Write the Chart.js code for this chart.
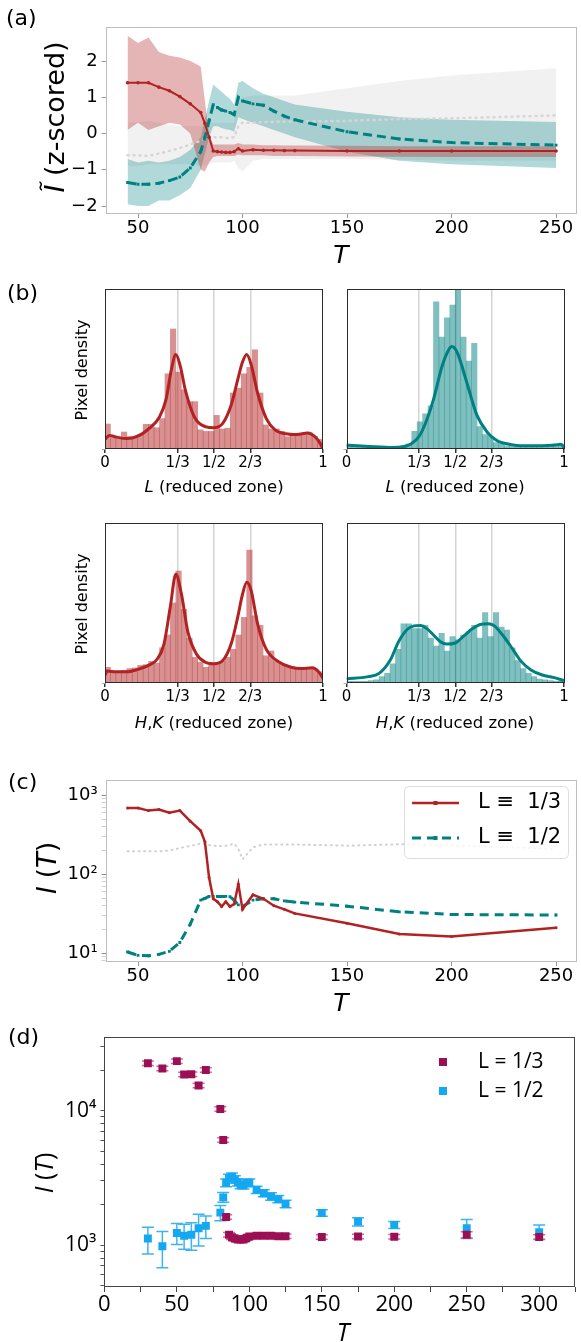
<!DOCTYPE html>
<html>
<head>
<meta charset="utf-8">
<script src="https://cdn.jsdelivr.net/npm/chart.js@4.4.1/dist/chart.umd.min.js"></script>
<style>
  html,body{margin:0;padding:0;background:#fff}
  body{position:relative;width:581px;height:1342px;overflow:hidden;font-family:"DejaVu Sans",sans-serif;color:#000}
  canvas{position:absolute}
  .tx{position:absolute;white-space:nowrap;line-height:1;transform:translate(-50%,-50%)}
  .rot{transform:translate(-50%,-50%) rotate(-90deg)}
  .pl{position:absolute;white-space:nowrap;line-height:1;transform:translateY(-50%);font-size:22px}
  .os{font-family:"Open Sans",sans-serif}
</style>
</head>
<body>
<canvas id="cA"></canvas>
<canvas id="cB1"></canvas>
<canvas id="cB2"></canvas>
<canvas id="cB3"></canvas>
<canvas id="cB4"></canvas>
<canvas id="cC"></canvas>
<canvas id="cD"></canvas>

<div class="pl" style="left:6px;top:18px">(a)</div>
<div class="tx rot" style="left:54px;top:117px;font-size:27px"><i>Ĩ</i> (z-scored)</div>
<div class="tx" style="left:341px;top:254px;font-size:25px"><i>T</i></div>

<div class="pl" style="left:7px;top:293px">(b)</div>
<div class="tx rot" style="left:82px;top:370px;font-size:16px">Pixel density</div>
<div class="tx rot" style="left:82px;top:604px;font-size:16px">Pixel density</div>
<div class="tx" style="left:214px;top:487px;font-size:16.5px"><i>L</i> (reduced zone)</div>
<div class="tx" style="left:455px;top:487px;font-size:16.5px"><i>L</i> (reduced zone)</div>
<div class="tx" style="left:214px;top:723px;font-size:16.5px"><i>H</i>,<i>K</i> (reduced zone)</div>
<div class="tx" style="left:455px;top:723px;font-size:16.5px"><i>H</i>,<i>K</i> (reduced zone)</div>

<div class="pl" style="left:8px;top:782px">(c)</div>
<div class="tx rot" style="left:47px;top:868px;font-size:26px"><i>I</i> (<i>T</i>)</div>
<div class="tx" style="left:341px;top:1002px;font-size:25px"><i>T</i></div>

<div class="pl" style="left:8px;top:1037px">(d)</div>
<div class="tx rot os" style="left:43px;top:1173px;font-size:25px"><i>I</i> (<i>T</i>)</div>
<div class="tx os" style="left:343px;top:1331px;font-size:25px"><i>T</i></div>

<script>
// ---- panel (a) and (c): temperature grid ----
const T_A = [45,50,55,60,65,70,75,80,82,84,86,88,90,92,94,96,98,100,105,110,115,120,125,150,175,200,250];
const A_XTICKS = [50,100,150,200,250];
const A_YTICKS = [-2,-1,0,1,2];

const A_RED    = [1.4,1.4,1.4,1.28,1.18,1.02,0.82,0.58,0.28,-0.1,-0.48,-0.5,-0.51,-0.52,-0.52,-0.5,-0.42,-0.48,-0.45,-0.46,-0.46,-0.47,-0.47,-0.48,-0.48,-0.48,-0.48];
const A_RED_HI = [2.7,2.5,2.65,2.25,2.15,2.1,2.0,1.85,0.9,-0.05,-0.3,-0.3,-0.3,-0.3,-0.3,-0.3,-0.26,-0.3,-0.3,-0.32,-0.32,-0.33,-0.33,-0.34,-0.35,-0.35,-0.35];
const A_RED_LO = [0.1,0.3,0.1,0.2,0.3,0.25,0.0,-1.0,-1.05,-0.8,-0.65,-0.62,-0.62,-0.62,-0.62,-0.62,-0.58,-0.6,-0.6,-0.6,-0.62,-0.62,-0.62,-0.63,-0.64,-0.65,-0.65];

const A_TEAL    = [-1.35,-1.4,-1.4,-1.37,-1.3,-1.2,-0.95,-0.5,-0.1,0.35,0.8,0.72,0.65,0.62,0.58,0.52,1.0,0.9,0.82,0.78,0.62,0.48,0.38,0.05,-0.15,-0.25,-0.32];
const A_TEAL_HI = [-0.7,-0.8,-0.75,-0.8,-0.75,-0.65,-0.45,-0.1,0.4,0.9,1.35,1.25,1.15,1.05,0.95,0.8,1.4,1.45,1.25,1.1,1.0,0.9,0.8,0.6,0.45,0.38,0.32];
const A_TEAL_LO = [-1.95,-2.0,-2.0,-1.85,-1.85,-1.7,-1.5,-1.0,-0.55,-0.1,0.2,0.2,0.15,0.12,0.1,0.05,0.45,0.4,0.3,0.2,0.1,0.0,-0.1,-0.5,-0.75,-0.85,-0.95];

const A_GRAY    = [-0.6,-0.6,-0.62,-0.55,-0.48,-0.4,-0.3,-0.2,-0.15,-0.1,-0.1,-0.1,-0.1,-0.12,-0.12,-0.1,0.2,0.3,0.3,0.32,0.32,0.33,0.33,0.35,0.4,0.42,0.5];
const A_GRAY_HI = [0.3,0.32,0.35,0.3,0.25,0.2,0.2,0.2,0.2,0.3,0.3,0.3,0.3,0.3,0.3,0.3,0.9,1.0,1.05,1.05,1.05,1.05,1.05,1.25,1.45,1.6,1.8];
const A_GRAY_LO = [-0.9,-0.9,-0.85,-0.85,-0.85,-0.85,-0.85,-0.9,-0.9,-0.85,-0.8,-0.8,-0.8,-0.8,-0.8,-0.75,-0.95,-1.05,-0.75,-0.7,-0.7,-0.7,-0.7,-0.7,-0.72,-0.75,-0.75];

const C_RED  = [690,690,640,660,600,640,470,355,258,91,49,45,39,45,39,42,75,36,55,49,40,36,32,24,17.6,16.3,21];
const C_TEAL = [10.4,9.4,9.3,9.7,10.6,13.7,23.4,47,49.5,52.5,52.5,52.5,52.5,52.5,52,47,41,39,47,49,49,46,44.5,39.5,33.5,31,30.5];
const C_GRAY = [195,195,195,195,200,215,228,245,240,235,230,228,228,230,235,245,210,155,220,238,238,238,238,230,240,232,210];
const C_YTICK_VALS = [10,100,1000];
const C_YTICK_TXT  = ['10\u00b9','10\u00b2','10\u00b3'];
const C_LEGEND = ['L \u2261  1/3','L \u2261  1/2'];

// ---- panel (b): histograms (40 bins on [0,1]) + KDE ----
const B_TICK_VALS = [0,1/3,1/2,2/3,1];
const B_TICK_TXT  = ['0','1/3','1/2','2/3','1'];
const N_BINS = 40;

const HIST_TL = [15.6,7,6.2,10.6,7.7,7,9,15.4,15.4,13.3,19,47,75,48,37,29.6,29.6,12,11,11,21,12.5,13,35,38,47,51,62,35,15,12.5,12.5,11,7.7,8,8,9,10.5,8,6];
const KDE_TL_X = [0,0.02,0.05,0.1,0.15,0.2,0.25,0.28,0.305,0.325,0.345,0.37,0.41,0.46,0.5,0.54,0.58,0.61,0.63,0.65,0.67,0.7,0.74,0.78,0.83,0.88,0.93,0.96,0.985,1];
const KDE_TL_Y = [6,8.5,7.5,6.5,8,12.5,20,31,50,59,52,36,20,14,13.3,16,28,44,54,59,53,35,19,12,9.5,9,10,8,4,0];

const HIST_TR = [2.5,2,1.5,1,1,1,1,1,1,1.5,2,3,11,17,22,27,92,70,82,90,104,70,55,66,14,9,7.7,4,3,2,2,1.5,1.5,1.5,1.5,1.5,2,2,3,3];
const KDE_TR_X = [0,0.05,0.1,0.2,0.25,0.28,0.3,0.333,0.36,0.4,0.44,0.47,0.485,0.51,0.55,0.6,0.65,0.667,0.7,0.75,0.8,0.9,0.96,0.985,1];
const KDE_TR_Y = [2.5,2,1.5,1,1.2,2.2,3.5,7.7,15,31,52,62,64,60,43,21,10,7.7,4.6,3,2,2,2.5,3,1];

const HIST_BL = [9.8,7.3,6.9,7.7,9,9.4,11,11.5,13.5,12.5,22,30,50,70,46,28,16,13,9.8,11.9,11.5,13.5,16,21,30,41,83,42,36,17,20,13.5,11.5,10.4,10,9,9,9,9,7];
const KDE_BL_X = [0,0.01,0.05,0.1,0.15,0.2,0.24,0.27,0.3,0.325,0.35,0.38,0.42,0.46,0.5,0.54,0.58,0.61,0.63,0.65,0.67,0.7,0.74,0.8,0.85,0.9,0.95,0.98,1];
const KDE_BL_Y = [5,7.5,7,7,8.5,11,15,24,48,68,56,32,18,13,12,14,25,42,55,63,58,37,21,13,10,9,9.5,7,3];

const HIST_BR = [1,1,1,1,1.5,2,4,6,12,21,37,37,34,34,36,28,23,31,20,29,27,30,32,36,28,44,29,44,35,33,22,14,9,6,4,2.5,2,1.5,1,1];
const KDE_BR_X = [0,0.1,0.15,0.2,0.24,0.28,0.31,0.34,0.37,0.4,0.43,0.46,0.5,0.54,0.58,0.62,0.65,0.68,0.72,0.76,0.8,0.85,0.9,0.95,1];
const KDE_BR_Y = [2.5,4,6,14,26,33.6,35.7,36,34,30,26,24.3,25,29.5,34,36.7,37,35.7,29.5,22,14,8,5,3.5,1.5];

// ---- panel (d): measured intensities ----
const T_D = [30,40,50,55,60,65,70,80,82,84,86,88,90,92,94,96,98,100,105,110,115,120,125,150,175,200,250,300];
const D_L13    = [22550,20600,23400,18600,18700,15400,20100,10300,6060,1620,1195,1145,1120,1100,1100,1100,1130,1160,1175,1175,1175,1165,1165,1150,1160,1155,1195,1150];
const D_L13_LO = [21700,19800,22500,17900,18000,14800,19300,9900,5820,1560,1150,1100,1075,1055,1055,1055,1085,1115,1130,1130,1130,1120,1120,1105,1115,1110,1130,1105];
const D_L13_HI = [23400,21400,24300,19300,19400,16000,20900,10700,6300,1685,1240,1190,1165,1145,1145,1145,1175,1205,1220,1220,1220,1210,1210,1195,1205,1200,1260,1195];
const D_L12    = [1120,980,1230,1175,1195,1335,1390,1745,2265,2910,3160,3230,3080,2930,2800,2790,2900,2910,2575,2430,2300,2200,2025,1735,1495,1415,1335,1250];
const D_L12_LO = [860,680,1010,930,915,985,1120,1520,2085,2720,2960,3030,2890,2750,2630,2620,2720,2730,2420,2290,2160,2070,1900,1640,1390,1330,1120,1100];
const D_L12_HI = [1360,1265,1450,1430,1470,1700,1645,1970,2460,3110,3370,3440,3280,3120,2980,2970,3090,3100,2740,2580,2450,2340,2160,1830,1600,1500,1550,1410];
const D_XTICK_VALS = [0,50,100,150,200,250,300];
const D_YTICK_VALS = [1000,10000];
const D_YTICK_TXT  = ['10\u00b3','10\u2074'];
const D_LEGEND = ['L = 1/3','L = 1/2'];

const RED = '#b22222', TEAL = '#008080', MAROON = '#9c0f55', SKY = '#14a8f2';

Chart.defaults.font.family = '"DejaVu Sans", sans-serif';
Chart.defaults.color = '#000';

function pts(xs, ys){ return xs.map((x,i)=>({x:x, y:ys[i]})); }

function setBox(id, box){
  const c = document.getElementById(id);
  c.style.left = box[0]+'px'; c.style.top = box[1]+'px';
  c.width = box[2]; c.height = box[3];
  c.style.width = box[2]+'px'; c.style.height = box[3]+'px';
  return c;
}
function pad(box, area){
  return {padding:{left:0, top:area[1]-box[1], right:box[0]+box[2]-area[2], bottom:0}};
}
function logTicks(min, max){
  const out = [];
  for (let d = 1; d <= 1e5; d *= 10) for (let m = 1; m <= 9; m++){ const v = d*m; if (v >= min && v <= max) out.push({value:v}); }
  return out;
}

// box round the plot area (matplotlib spines)
const framePlugin = {
  id:'frame',
  afterDraw(chart, args, o){
    const a = chart.chartArea, c = chart.ctx;
    c.save(); c.strokeStyle = o.color; c.lineWidth = 1;
    c.strokeRect(Math.round(a.left)+0.5, Math.round(a.top)+0.5, Math.round(a.right-a.left)-1, Math.round(a.bottom-a.top)-1);
    c.restore();
  }
};

// legend drawn inside the axes
const legendPlugin = {
  id:'boxLegend',
  afterDatasetsDraw(chart, args, o){
    if (!o.items) return;
    const c = chart.ctx;
    c.save();
    if (o.box){
      const [x0,y0,x1,y1] = o.box;
      c.beginPath(); c.roundRect(x0+0.5, y0+0.5, x1-x0, y1-y0, 5);
      c.fillStyle = 'rgba(255,255,255,0.8)'; c.fill();
      c.strokeStyle = '#dcdcdc'; c.lineWidth = 1; c.stroke();
    }
    o.items.forEach((it, i) => {
      const ds = chart.data.datasets[it.ds];
      const y = o.y0 + i*o.dy;
      if (o.line){
        c.strokeStyle = ds.borderColor; c.lineWidth = ds.borderWidth;
        c.setLineDash(ds.borderDash || []);
        c.beginPath(); c.moveTo(o.x0, y); c.lineTo(o.x0+o.len, y); c.stroke();
        c.setLineDash([]);
        c.fillStyle = ds.borderColor;
        c.fillRect(o.x0+o.len/2-2, y-2, 4, 4);
      } else {
        const s = o.size;
        c.fillStyle = ds.backgroundColor;
        c.fillRect(o.x0-s/2, y-s/2, s, s);
      }
      c.fillStyle = '#000'; c.font = o.font; c.textBaseline = 'middle'; c.textAlign = 'left';
      c.fillText(it.text, o.tx, y);
    });
    c.restore();
  }
};

// vertical error bars with caps
const errPlugin = {
  id:'errBars',
  beforeDatasetsDraw(chart, args, o){
    if (!o.sets) return;
    const c = chart.ctx, xs = chart.scales.x, ys = chart.scales.y, a = chart.chartArea;
    c.save();
    c.beginPath(); c.rect(a.left, a.top, a.right-a.left, a.bottom-a.top); c.clip();
    o.sets.forEach(s => {
      c.strokeStyle = s.color; c.lineWidth = 1.5;
      s.x.forEach((xv, i) => {
        const px = xs.getPixelForValue(xv), lo = ys.getPixelForValue(s.lo[i]), hi = ys.getPixelForValue(s.hi[i]);
        c.beginPath();
        c.moveTo(px, lo); c.lineTo(px, hi);
        c.moveTo(px-s.cap, lo); c.lineTo(px+s.cap, lo);
        c.moveTo(px-s.cap, hi); c.lineTo(px+s.cap, hi);
        c.stroke();
      });
    });
    c.restore();
  }
};

const base = {responsive:false, animation:false, devicePixelRatio:1, events:[]};

// ===================== (a) =====================
(function(){
  const box = [0,0,581,250], area = [105.6,27,578.5,214];
  const cv = setBox('cA', box);
  const band = (lo, hi, col) => [
    {data:pts(T_A, lo), borderColor:'rgba(0,0,0,0)', borderWidth:0, pointRadius:0, fill:false},
    {data:pts(T_A, hi), borderColor:'rgba(0,0,0,0)', borderWidth:0, pointRadius:0, fill:'-1', backgroundColor:col}
  ];
  // datasets with lower index are drawn on top
  new Chart(cv, {
    type:'line',
    data:{datasets:[
      {data:pts(T_A, A_RED), borderColor:RED, backgroundColor:RED, borderWidth:2, pointRadius:1.8, pointBorderWidth:0},
      {data:pts(T_A, A_TEAL), borderColor:TEAL, backgroundColor:TEAL, borderWidth:3, borderDash:[9,5], pointRadius:2, pointStyle:'rect', pointBorderWidth:0},
      {data:pts(T_A, A_GRAY), borderColor:'#d6d6d6', borderWidth:2.5, borderDash:[1,5], borderCapStyle:'round', pointRadius:0},
      ...band(A_RED_LO, A_RED_HI, 'rgba(178,34,34,0.34)'),
      ...band(A_TEAL_LO, A_TEAL_HI, 'rgba(0,128,128,0.3)'),
      ...band(A_GRAY_LO, A_GRAY_HI, 'rgba(215,215,215,0.35)')
    ]},
    options:Object.assign({}, base, {
      layout:pad(box, area),
      plugins:{legend:{display:false}, tooltip:{enabled:false}, frame:{color:'#bdbdbd'}},
      scales:{
        x:{type:'linear', min:34.5, max:260,
           afterBuildTicks:s=>{ s.ticks = A_XTICKS.map(v=>({value:v})); },
           afterFit:s=>{ s.height = box[1]+box[3]-area[3]; },
           border:{display:false},
           grid:{drawOnChartArea:false, tickLength:4, color:'#999'},
           ticks:{font:{size:18}, padding:0, maxRotation:0, autoSkip:false, callback:v=>String(v)}},
        y:{type:'linear', min:-2.22, max:2.94,
           afterBuildTicks:s=>{ s.ticks = A_YTICKS.map(v=>({value:v})); },
           afterFit:s=>{ s.width = area[0]-box[0]; },
           border:{display:false},
           grid:{drawOnChartArea:false, tickLength:4, color:'#999'},
           ticks:{font:{size:18}, padding:4, autoSkip:false, callback:v=>(v<0?'\u2212'+Math.abs(v):String(v))}}
      }
    }),
    plugins:[framePlugin]
  });
})();

// ===================== (b) =====================
function histChart(id, box, area, hist, kx, ky, col, fillCol){
  const cv = setBox(id, box);
  const centers = hist.map((_, i) => (i+0.5)/N_BINS);
  new Chart(cv, {
    type:'bar',
    data:{datasets:[
      {type:'line', data:pts(kx, ky), borderColor:col, borderWidth:3, pointRadius:0, tension:0.4, cubicInterpolationMode:'monotone', fill:false},
      {type:'bar', data:pts(centers, hist), backgroundColor:fillCol, borderWidth:0, barPercentage:1, categoryPercentage:1}
    ]},
    options:Object.assign({}, base, {
      layout:pad(box, area),
      plugins:{legend:{display:false}, tooltip:{enabled:false}, frame:{color:'#2b2b2b'}},
      scales:{
        x:{type:'linear', min:0, max:1, offset:false,
           afterBuildTicks:s=>{ s.ticks = B_TICK_VALS.map(v=>({value:v})); },
           afterFit:s=>{ s.height = box[1]+box[3]-area[3]; },
           border:{display:false},
           grid:{offset:false, drawOnChartArea:true, tickLength:4, lineWidth:1.5,
                 color:ctx=>(ctx.tick && (ctx.tick.value===0 || ctx.tick.value===1)) ? 'rgba(0,0,0,0)' : '#d4d4d4',
                 tickColor:'#333'},
           ticks:{font:{size:15}, padding:1, maxRotation:0, autoSkip:false,
                  callback:(v,i)=>B_TICK_TXT[i]}},
        y:{type:'linear', min:0, max:100,
           afterBuildTicks:s=>{ s.ticks = [{value:0}]; },
           afterFit:s=>{ s.width = area[0]-box[0]; },
           border:{display:false},
           grid:{drawOnChartArea:false, tickLength:3, color:'#aaa'},
           ticks:{display:false}}
      }
    }),
    plugins:[framePlugin]
  });
}
histChart('cB1', [90,280,240,200],  [105,289,323,449], HIST_TL, KDE_TL_X, KDE_TL_Y, RED,  'rgba(178,34,34,0.5)');
histChart('cB2', [333,280,245,200], [346.5,289,564,449], HIST_TR, KDE_TR_X, KDE_TR_Y, TEAL, 'rgba(0,128,128,0.5)');
histChart('cB3', [90,514,240,200],  [105,523,323,683], HIST_BL, KDE_BL_X, KDE_BL_Y, RED,  'rgba(178,34,34,0.5)');
histChart('cB4', [333,514,245,200], [346.5,523,564,683], HIST_BR, KDE_BR_X, KDE_BR_Y, TEAL, 'rgba(0,128,128,0.5)');

// ===================== (c) =====================
(function(){
  const box = [0,765,581,225], area = [105.6,774,578.5,962];
  const cv = setBox('cC', box);
  new Chart(cv, {
    type:'line',
    data:{datasets:[
      {data:pts(T_A, C_RED), borderColor:RED, backgroundColor:RED, borderWidth:2.5, pointRadius:1.5, pointBorderWidth:0},
      {data:pts(T_A, C_TEAL), borderColor:TEAL, backgroundColor:TEAL, borderWidth:3, borderDash:[9,6], pointRadius:2, pointStyle:'rect', pointBorderWidth:0},
      {data:pts(T_A, C_GRAY), borderColor:'#d0d0d0', borderWidth:2, borderDash:[1,4.5], borderCapStyle:'round', pointRadius:0}
    ]},
    options:Object.assign({}, base, {
      layout:pad(box, area),
      plugins:{legend:{display:false}, tooltip:{enabled:false}, frame:{color:'#bdbdbd'},
        boxLegend:{box:[404,21,568,93], items:[{ds:0, text:C_LEGEND[0]},{ds:1, text:C_LEGEND[1]}],
                   line:true, x0:412, len:47, tx:478, y0:38, dy:35, font:'21px "DejaVu Sans"'}},
      scales:{
        x:{type:'linear', min:34.5, max:260,
           afterBuildTicks:s=>{ s.ticks = A_XTICKS.map(v=>({value:v})); },
           afterFit:s=>{ s.height = box[1]+box[3]-area[3]; },
           border:{display:false},
           grid:{drawOnChartArea:false, tickLength:4, color:'#999'},
           ticks:{font:{size:18}, padding:0, maxRotation:0, autoSkip:false, callback:v=>String(v)}},
        y:{type:'logarithmic', min:7.76, max:1570,
           afterBuildTicks:s=>{ s.ticks = logTicks(7.76, 1570); },
           afterFit:s=>{ s.width = area[0]-box[0]; },
           border:{display:false},
           grid:{drawOnChartArea:false, tickLength:4,
                 tickColor:ctx=>C_YTICK_VALS.includes(ctx.tick.value) ? '#888' : '#d0d0d0'},
           ticks:{font:{size:18}, padding:4, autoSkip:false,
                  callback:v=>{ const k = C_YTICK_VALS.indexOf(v); return k < 0 ? '' : C_YTICK_TXT[k]; }}}
      }
    }),
    plugins:[framePlugin, legendPlugin]
  });
})();

// ===================== (d) =====================
(function(){
  const box = [0,1020,581,300], area = [104.4,1030,578.5,1287];
  const cv = setBox('cD', box);
  const xTicks = [];
  for (let v = 0; v <= 325; v += 25) xTicks.push({value:v});
  new Chart(cv, {
    type:'scatter',
    data:{datasets:[
      {data:pts(T_D, D_L13), backgroundColor:MAROON, borderColor:MAROON, pointStyle:'rect', pointRadius:5.6, borderWidth:0},
      {data:pts(T_D, D_L12), backgroundColor:SKY, borderColor:SKY, pointStyle:'rect', pointRadius:5.6, borderWidth:0}
    ]},
    options:Object.assign({}, base, {
      layout:pad(box, area),
      plugins:{legend:{display:false}, tooltip:{enabled:false}, frame:{color:'#444'},
        errBars:{sets:[
          {x:T_D, lo:D_L12_LO, hi:D_L12_HI, color:'#3db4f2', cap:6},
          {x:T_D, lo:D_L13_LO, hi:D_L13_HI, color:'#d36a9c', cap:6}
        ]},
        boxLegend:{items:[{ds:0, text:D_LEGEND[0]},{ds:1, text:D_LEGEND[1]}],
                   line:false, size:8, x0:443, tx:478, y0:42, dy:29, font:'21px "Open Sans"'}},
      scales:{
        x:{type:'linear', min:0, max:325,
           afterBuildTicks:s=>{ s.ticks = xTicks; },
           afterFit:s=>{ s.height = box[1]+box[3]-area[3]; },
           border:{display:false},
           grid:{drawOnChartArea:false, tickLength:5, color:'#444'},
           ticks:{font:{size:22, family:'"Open Sans"'}, padding:0, maxRotation:0, autoSkip:false,
                  callback:v=>D_XTICK_VALS.includes(v) ? String(v) : ''}},
        y:{type:'logarithmic', min:488, max:35600,
           afterBuildTicks:s=>{ s.ticks = logTicks(488, 35600); },
           afterFit:s=>{ s.width = area[0]-box[0]; },
           border:{display:false},
           grid:{drawOnChartArea:false, tickLength:4, color:'#555'},
           ticks:{font:{size:21, family:'"Open Sans"'}, padding:4, autoSkip:false,
                  callback:v=>{ const k = D_YTICK_VALS.indexOf(v); return k < 0 ? '' : D_YTICK_TXT[k]; }}}
      }
    }),
    plugins:[framePlugin, errPlugin, legendPlugin]
  });
})();
</script>
</body>
</html>
